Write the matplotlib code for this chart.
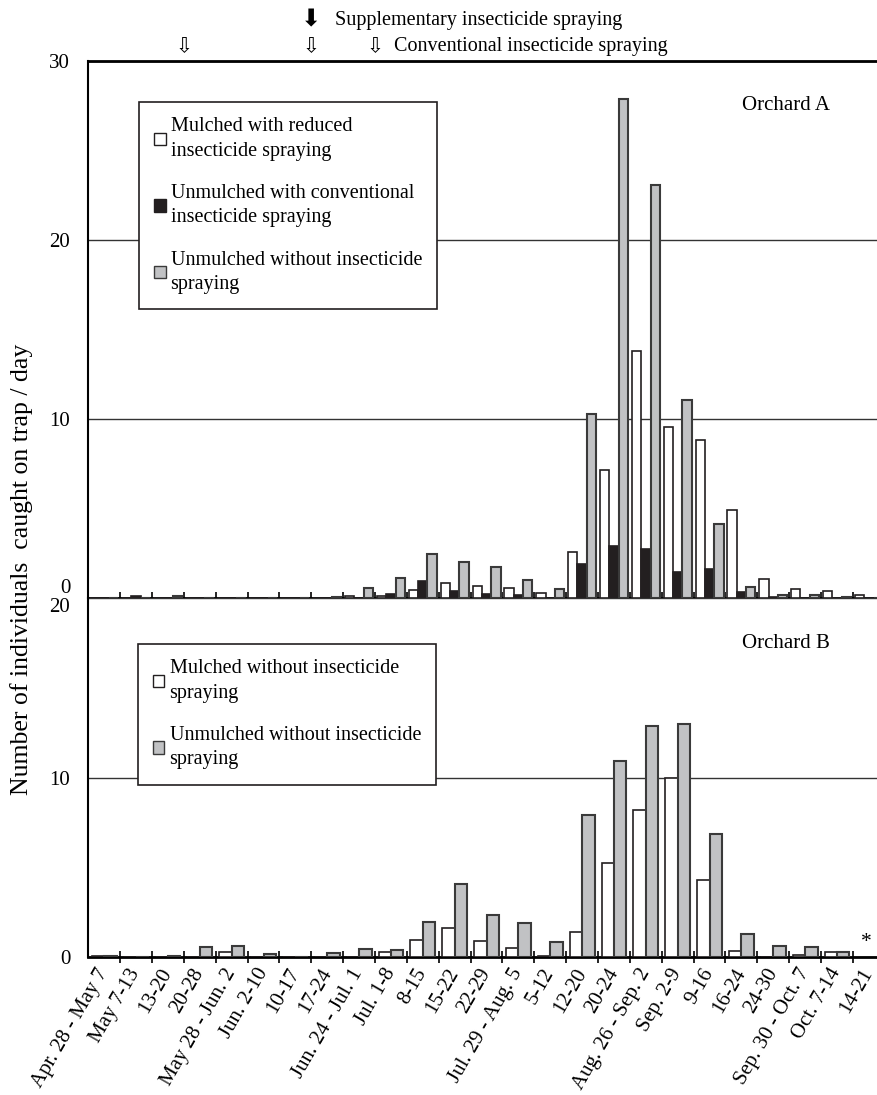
import numpy as np
import matplotlib
matplotlib.use("Agg")
import matplotlib.pyplot as plt
from matplotlib.patches import Patch
from matplotlib.transforms import blended_transform_factory

plt.rcParams['font.family'] = ['Liberation Serif', 'DejaVu Sans']

#
# Data (individuals caught on trap / day)
#
periods = ["Apr. 28 - May 7", "May 7-13", "13-20", "20-28", "May 28 - Jun. 2",
           "Jun. 2-10", "10-17", "17-24", "Jun. 24 - Jul. 1", "Jul. 1-8",
           "8-15", "15-22", "22-29", "Jul. 29 - Aug. 5", "5-12", "12-20",
           "20-24", "Aug. 26 - Sep. 2", "Sep. 2-9", "9-16", "16-24", "24-30",
           "Sep. 30 - Oct. 7", "Oct. 7-14", "14-21"]

# Orchard A
a_mulched_reduced = [0, 0, 0, 0, 0, 0, 0, 0, 0.10, 0.10, 0.43, 0.86, 0.68, 0.56,
                     0.26, 2.55, 7.13, 13.8, 9.53, 8.85, 4.90, 1.04, 0.48, 0.37, 0.15]
a_unmulched_conv = [0, 0.13, 0, 0, 0, 0, 0, 0, 0, 0.24, 0.93, 0.37, 0.22, 0.15,
                    0, 1.90, 2.89, 2.76, 1.45, 1.64, 0.32, 0.05, 0, 0, 0]
a_unmulched_none = [0, 0, 0.13, 0, 0, 0, 0, 0.05, 0.56, 1.10, 2.44, 2.03, 1.73, 1.00,
                    0.52, 10.28, 27.9, 23.1, 11.06, 4.15, 0.62, 0.15, 0.15, 0.05, 0]

# Orchard B (last period not sampled, marked *)
b_mulched_none = [0.06, 0, 0, 0, 0.32, 0, 0, 0.04, 0, 0.30, 0.95, 1.62, 0.93, 0.50,
                  0.07, 1.43, 5.25, 8.21, 10.0, 4.32, 0.37, 0, 0.11, 0.30, np.nan]
b_unmulched_none = [0.06, 0, 0.05, 0.56, 0.61, 0.17, 0, 0.26, 0.45, 0.39, 1.94, 4.07,
                    2.35, 1.90, 0.86, 7.91, 10.93, 12.9, 12.98, 6.85, 1.30, 0.61, 0.56,
                    0.30, np.nan]

# boundaries (category edges) of the spraying arrows
conventional_spray = [3, 7, 9]
supplementary_spray = [7]

#
# Styles
#
WHITE = dict(color='white', edgecolor='#231f20', linewidth=1.2)
BLACK = dict(color='#231f20', edgecolor='#231f20', linewidth=1.2)
GRAY = dict(color='#c1c2c4', edgecolor='#3a3a3a', linewidth=1.5)
FS = 14.5

x = np.arange(len(periods)) + 0.5
W, H = 877, 1095
left = 88.3 / W
xmax = (W - 88.3) / 31.86

fig = plt.figure(figsize=(W / 100, H / 100), dpi=100)
ax1 = fig.add_axes([left, 1 - 598 / H, 1 - left, 537 / H])
ax2 = fig.add_axes([left, 1 - 957.3 / H, 1 - left, 359.3 / H])

#
# Orchard A
#
w1 = 0.292
ax1.bar(x - w1, a_mulched_reduced, w1, zorder=3, **WHITE)
ax1.bar(x, a_unmulched_conv, w1, zorder=3, **BLACK)
ax1.bar(x + w1, a_unmulched_none, w1, zorder=3, **GRAY)
ax1.set_ylim(0, 30)
ax1.set_yticks([0, 10, 20, 30])
ax1.grid(axis='y', color='#333333', linewidth=1.0, zorder=0)

#
# Orchard B
#
w2 = 0.39
ax2.bar(x - w2 / 2, b_mulched_none, w2, zorder=3, **WHITE)
ax2.bar(x + w2 / 2, b_unmulched_none, w2, zorder=3, **GRAY)
ax2.set_ylim(0, 20)
ax2.set_yticks([0, 10, 20])
ax2.grid(axis='y', color='#333333', linewidth=1.0, zorder=0)
ax2.text(24.41, 0.8, "*", fontsize=FS + 1, ha='center', va='center')

for ax in (ax1, ax2):
    ax.set_xlim(0, xmax)
    ax.set_axisbelow(True)
    ax.spines['right'].set_visible(False)
    ax.spines['left'].set_linewidth(1.5)
    ax.spines['bottom'].set_linewidth(2.0)
    ax.tick_params(axis='y', length=0, pad=13, labelsize=FS + 0.5)
    ax.set_xticks(np.arange(1, len(periods)), minor=True)
    ax.set_xticks(x)

ax1.spines['top'].set_linewidth(2.0)
ax2.spines['top'].set_visible(False)
ax1.tick_params(axis='x', which='major', length=0, labelbottom=False)
ax1.tick_params(axis='x', which='minor', direction='in', length=4, width=1.2)
ax2.tick_params(axis='x', which='minor', direction='inout', length=9, width=1.2)
ax2.tick_params(axis='x', which='major', length=0, pad=9)
ax2.set_xticklabels(periods, rotation=60, ha='right', rotation_mode='anchor',
                    va='center', fontsize=FS + 0.5)

# shared zero / twenty labels sit just off the joint line
ax1.get_yticklabels()[0].set_va('bottom')
ax2.get_yticklabels()[-1].set_va('top')

#
# Legends and labels
#
h1 = [Patch(facecolor='white', edgecolor='#231f20', linewidth=1.0),
      Patch(facecolor='#231f20', edgecolor='#231f20', linewidth=1.0),
      Patch(facecolor='#c1c2c4', edgecolor='#3a3a3a', linewidth=1.0)]
l1 = ["Mulched with reduced\ninsecticide spraying",
      "Unmulched with conventional\ninsecticide spraying",
      "Unmulched without insecticide\nspraying"]
h2 = [h1[0], h1[2]]
l2 = ["Mulched without insecticide\nspraying",
      "Unmulched without insecticide\nspraying"]

legend_style = dict(loc='upper left', fontsize=FS, frameon=True, fancybox=False,
                    edgecolor='#231f20', framealpha=1, handlelength=0.55,
                    handleheight=0.55, handletextpad=0.25, labelspacing=1.15,
                    borderpad=0.75, borderaxespad=0)
leg1 = ax1.legend(h1, l1, bbox_to_anchor=(0.0647, 0.9236), **legend_style)
leg2 = ax2.legend(h2, l2, bbox_to_anchor=(0.0634, 0.872), **legend_style)
for leg in (leg1, leg2):
    leg.get_frame().set_linewidth(1.2)
    for t in leg.get_texts():
        t.set_linespacing(1.4)

ax1.text(21.9, 27.5, "Orchard A", fontsize=FS + 0.5, ha='center', va='center')
ax2.text(21.9, 17.45, "Orchard B", fontsize=FS + 0.5, ha='center', va='center')

fig.text(0.025, 0.48, "Number of individuals  caught on trap / day", rotation=90,
         fontsize=18.5, ha='center', va='center')

# spraying arrows above Orchard A
trans = blended_transform_factory(ax1.transData, fig.transFigure)
for b in conventional_spray:
    ax1.text(b, 1 - 47 / H, "\u21e9", transform=trans, fontsize=FS,
             ha='center', va='center', family=['DejaVu Sans'])
for b in supplementary_spray:
    ax1.text(b, 1 - 19 / H, "\u2b07", transform=trans, fontsize=FS + 3,
             ha='center', va='center', family=['DejaVu Sans'])
ax1.text(7.75, 1 - 20 / H, "Supplementary insecticide spraying", transform=trans,
         fontsize=FS, ha='left', va='center')
ax1.text(9.6, 1 - 47 / H, "Conventional insecticide spraying", transform=trans,
         fontsize=FS, ha='left', va='center')

fig.savefig("out.png", dpi=100)
